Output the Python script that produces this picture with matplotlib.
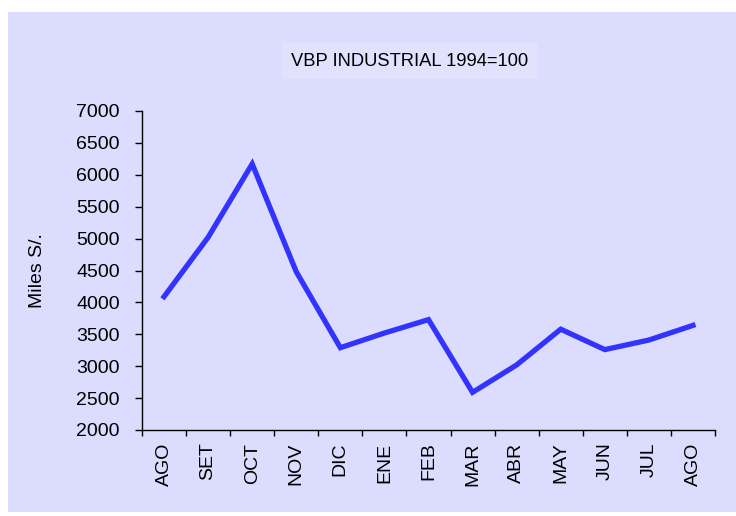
import matplotlib
matplotlib.use("Agg")
import matplotlib.pyplot as plt
from matplotlib.patches import Rectangle
import numpy as np

# Data
months = ["AGO", "SET", "OCT", "NOV", "DIC", "ENE", "FEB",
          "MAR", "ABR", "MAY", "JUN", "JUL", "AGO"]
vbp = [4090, 5020, 6170, 4480, 3290, 3520, 3730,
       2590, 3020, 3580, 3260, 3410, 3640]
y_ticks = list(range(2000, 7001, 500))

title = "VBP INDUSTRIAL 1994=100"
y_label = "Miles S/."

bg = "#DCDCFF"
line_col = "#3333FF"

plt.rcParams['font.family'] = ['Liberation Sans', 'DejaVu Sans']

fig = plt.figure(figsize=(7.36, 5.16), dpi=100)
fig.patch.set_facecolor("white")
# lavender chart area, with a thin white margin top/left/bottom
fig.patches.append(Rectangle((8 / 736, 4 / 516), 728 / 736, 500 / 516,
                             transform=fig.transFigure, facecolor=bg,
                             edgecolor="none", zorder=-1))

ax = fig.add_axes([142 / 736, 86 / 516, 573 / 736, 319 / 516])
ax.set_facecolor("none")
ax.set_zorder(1)

x = np.arange(len(months))
ax.plot(x, vbp, color=line_col, linewidth=3.8, solid_joinstyle="miter")

ax.set_xlim(-0.5, len(months) - 0.5)
ax.set_ylim(2000, 7000)
ax.set_yticks(y_ticks)
ax.tick_params(axis="y", labelsize=14, length=5, width=1, pad=11)

# labels centred on categories, ticks on category boundaries
ax.set_xticks(x)
ax.set_xticklabels(months, rotation=90, fontsize=14)
ax.tick_params(axis="x", which="major", length=0, pad=9)
ax.set_xticks(np.arange(-0.5, len(months)), minor=True)
ax.tick_params(axis="x", which="minor", length=4, width=1)

for s in ["top", "right"]:
    ax.spines[s].set_visible(False)
for s in ["left", "bottom"]:
    ax.spines[s].set_linewidth(1)

ax.set_ylabel(y_label, fontsize=14, labelpad=22)

fig.text(410 / 736, 1 - 61 / 516, title, fontsize=13.2, ha="center", va="center",
         bbox=dict(boxstyle="square,pad=0.5", facecolor="#E2E2FF", edgecolor="none"))

fig.savefig("out.png", dpi=100, facecolor=fig.get_facecolor())
